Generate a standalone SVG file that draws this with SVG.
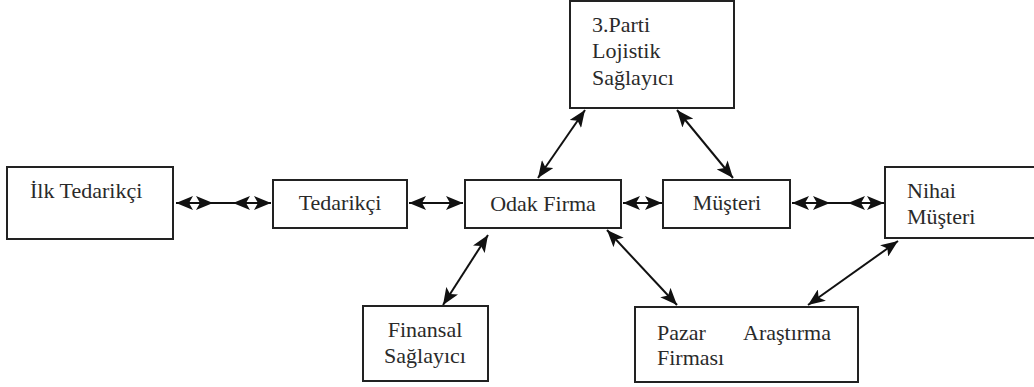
<svg xmlns="http://www.w3.org/2000/svg" width="1034" height="387" viewBox="0 0 1034 387">
<style>
.box{fill:#fff;stroke:#222;stroke-width:2}
.t{font-size:22px;fill:#2a2a2a}
.c{text-anchor:middle}
.ln{stroke:#111;stroke-width:2;fill:none}
.da{marker-start:url(#ah);marker-end:url(#ah)}
</style>
<defs>
<marker id="ah" markerUnits="userSpaceOnUse" markerWidth="18" markerHeight="14" refX="17" refY="7" orient="auto-start-reverse" viewBox="0 0 18 14">
<path d="M0,0 L17,7 L0,14 L4,7 z" fill="#111"/>
</marker>
</defs>
<g id="connectors">
<line class="ln da" x1="176" y1="203" x2="213" y2="203"/>
<line class="ln" x1="213" y1="203" x2="233" y2="203"/>
<line class="ln da" x1="233" y1="203" x2="271" y2="203"/>
<line class="ln da" x1="409" y1="203" x2="463" y2="203"/>
<line class="ln da" x1="623" y1="203" x2="662" y2="203"/>
<line class="ln da" x1="792" y1="203" x2="830" y2="203"/>
<line class="ln" x1="830" y1="203" x2="848" y2="203"/>
<line class="ln da" x1="848" y1="203" x2="884" y2="203"/>
<line class="ln da" x1="538" y1="178" x2="585" y2="110"/>
<line class="ln da" x1="677" y1="110" x2="733" y2="178"/>
<line class="ln da" x1="443" y1="305" x2="488" y2="235"/>
<line class="ln da" x1="607" y1="230" x2="677" y2="305"/>
<line class="ln da" x1="898" y1="241" x2="808" y2="305"/>
</g>
<g font-family="Liberation Serif, DejaVu Serif, Times New Roman, serif">
<g id="ilk-tedarikci">
<rect class="box" x="7" y="167" width="166" height="72"/>
<text class="t" x="30" y="198">İlk Tedarikçi</text>
</g>
<g id="tedarikci">
<rect class="box" x="273" y="180" width="134" height="48"/>
<text class="t c" x="340" y="210">Tedarikçi</text>
</g>
<g id="odak-firma">
<rect class="box" x="465" y="180" width="156" height="48"/>
<text class="t c" x="543" y="211">Odak Firma</text>
</g>
<g id="musteri">
<rect class="box" x="663" y="180" width="127" height="48"/>
<text class="t c" x="727" y="210">Müşteri</text>
</g>
<g id="nihai-musteri">
<rect class="box" x="885" y="167" width="160" height="71"/>
<text class="t" x="907" y="198">Nihai</text>
<text class="t" x="907" y="224">Müşteri</text>
</g>
<g id="lojistik">
<rect class="box" x="570" y="1" width="164" height="107"/>
<text class="t" x="592" y="32">3.Parti</text>
<text class="t" x="592" y="58">Lojistik</text>
<text class="t" x="592" y="85">Sağlayıcı</text>
</g>
<g id="finansal">
<rect class="box" x="363" y="306" width="125" height="75"/>
<text class="t c" x="425" y="337">Finansal</text>
<text class="t c" x="425" y="363">Sağlayıcı</text>
</g>
<g id="pazar">
<rect class="box" x="635" y="307" width="223" height="75"/>
<text class="t" x="657" y="340">Pazar</text>
<text class="t" x="743" y="340">Araştırma</text>
<text class="t" x="657" y="365">Firması</text>
</g>
</g>
</svg>
